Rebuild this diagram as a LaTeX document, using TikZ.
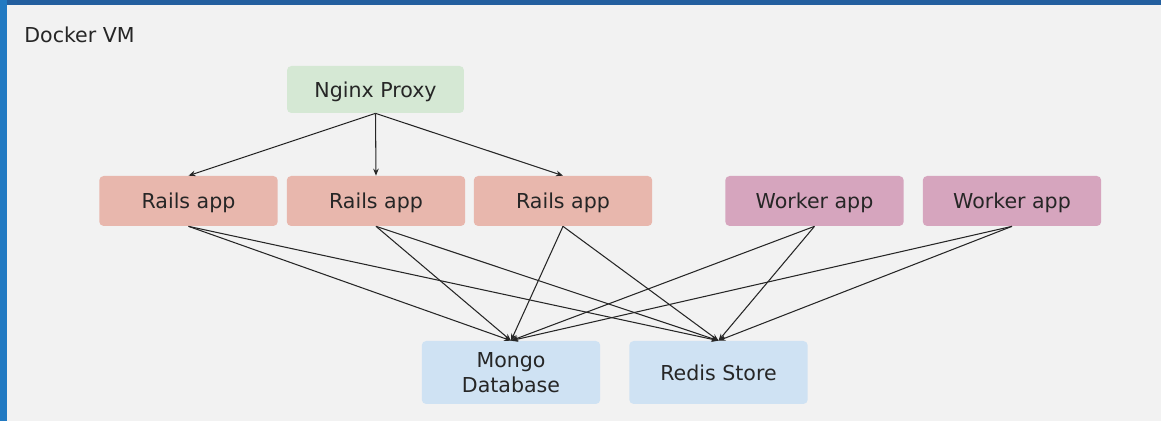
\documentclass[tikz,border=0pt]{standalone}
\usepackage{fontspec}
\setmainfont{DejaVu Sans}
\usetikzlibrary{arrows.meta}
\definecolor{vmgray}{HTML}{F2F2F2}
\definecolor{vmtop}{HTML}{235F9F}
\definecolor{vmside}{HTML}{227AC2}
\definecolor{proxygreen}{HTML}{D5E8D4}
\definecolor{railsred}{HTML}{E8B7AD}
\definecolor{workerpink}{HTML}{D6A5BE}
\definecolor{storeblue}{HTML}{CFE2F3}

\begin{document}
\begin{tikzpicture}[
x=0.02cm,y=-0.02cm,
font=\fontsize{11.7}{14.2}\selectfont,
box/.style={rectangle,rounded corners=2.5pt,draw=none,inner sep=0pt,
  minimum width=3.57cm,minimum height=1cm,text depth=0pt,text=black!85},
proxy/.style={box,fill=proxygreen,minimum width=3.54cm,minimum height=0.94cm},
rails/.style={box,fill=railsred},
worker/.style={box,fill=workerpink},
store/.style={box,fill=storeblue,minimum height=1.26cm,align=center},
arrow/.style={-{Stealth[length=4pt,width=3.2pt]},line width=0.6pt,black!85}
]
\fill[vmgray] (0,0) rectangle (1161,421);
\fill[vmtop] (0,0) rectangle (1161,5);
\fill[vmside] (0,0) rectangle (7,421);
\node[anchor=base west,inner sep=0pt,text=black!85] (title) at (24,43) {Docker VM};

\node[proxy] (nginx) at (375.5,89.5) {Nginx Proxy};
\node[rails] (rails1) at (188.5,201) {Rails app};
\node[rails] (rails2) at (376,201) {Rails app};
\node[rails] (rails3) at (563,201) {Rails app};
\node[worker] (worker1) at (814.5,201) {Worker app};
\node[worker] (worker2) at (1012,201) {Worker app};
\node[store] (mongo) at (511,372.5) {Mongo\\Database};
\node[store] (redis) at (718.5,372.5) {Redis Store};

% proxy to rails
\foreach \r in {rails1,rails2,rails3}
  \draw[arrow] (nginx.south) -- (\r.north);

% apps to stores
\foreach \a in {rails1,rails2,rails3,worker1,worker2} {
  \draw[arrow] (\a.south) -- (mongo.north);
  \draw[arrow] (\a.south) -- (redis.north);
}

\end{tikzpicture}
\end{document}
